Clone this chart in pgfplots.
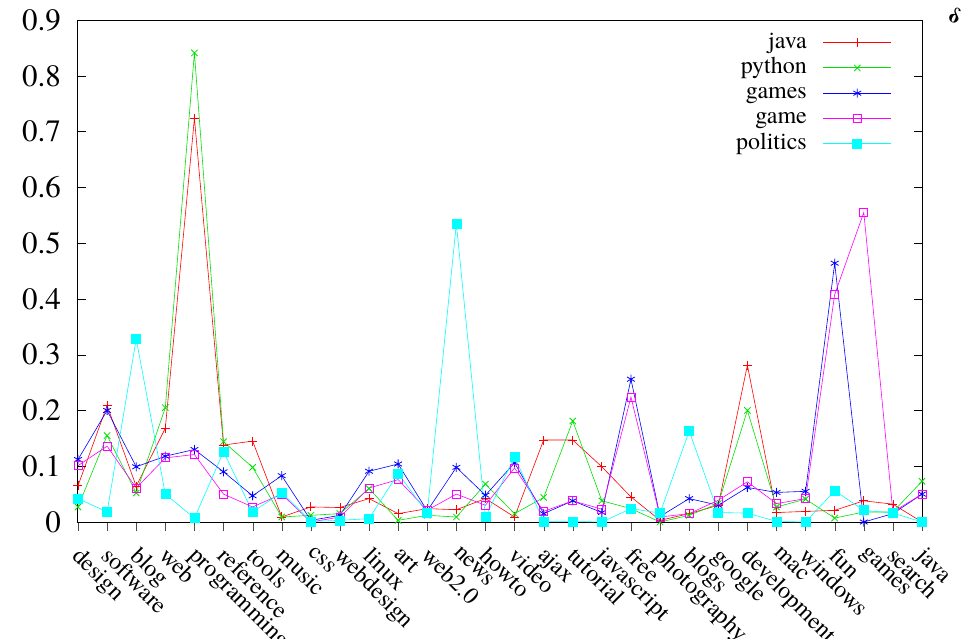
\documentclass[border=0pt]{standalone}
\usepackage{fontspec}
\setmainfont{texgyretermes-regular.otf}[BoldFont=texgyretermes-bold.otf]
\usepackage{pgfplots}
\usepackage{pgfplotstable}
\pgfplotsset{compat=1.18}
\definecolor{cRed}{RGB}{255,0,0}
\definecolor{cGreen}{RGB}{0,225,0}
\definecolor{cBlue}{RGB}{0,0,255}
\definecolor{cPink}{RGB}{255,0,255}
\definecolor{cCyan}{RGB}{0,255,255}
\pgfplotstableread{
x java python games game politics
0 0.065 0.027 0.112 0.101 0.042
1 0.209 0.155 0.200 0.136 0.018
2 0.064 0.052 0.099 0.061 0.328
3 0.168 0.205 0.118 0.115 0.050
4 0.724 0.841 0.130 0.121 0.007
5 0.138 0.144 0.090 0.050 0.126
6 0.145 0.098 0.047 0.027 0.018
7 0.009 0.009 0.083 0.050 0.053
8 0.027 0.012 0.003 0.000 0.001
9 0.026 0.015 0.012 0.009 0.003
10 0.042 0.060 0.091 0.061 0.006
11 0.015 0.003 0.104 0.076 0.087
12 0.024 0.012 0.020 0.021 0.016
13 0.022 0.009 0.098 0.050 0.535
14 0.042 0.068 0.048 0.030 0.009
15 0.009 0.015 0.106 0.097 0.117
16 0.147 0.044 0.015 0.019 0.001
17 0.147 0.181 0.038 0.038 0.001
18 0.099 0.038 0.017 0.023 0.000
19 0.045 0.024 0.256 0.224 0.024
20 0.003 0.000 0.010 0.009 0.016
21 0.015 0.012 0.042 0.015 0.163
22 0.030 0.033 0.030 0.039 0.017
23 0.281 0.200 0.062 0.072 0.016
24 0.017 0.027 0.053 0.033 0.001
25 0.019 0.041 0.055 0.042 0.000
26 0.021 0.007 0.464 0.408 0.056
27 0.038 0.018 0.000 0.555 0.021
28 0.032 0.018 0.015 0.018 0.016
29 0.000 0.073 0.050 0.050 0.000
}\datatable
\begin{document}
\begin{tikzpicture}
\begin{axis}[
  scale only axis, width=844pt, height=502pt,
  xmin=0, xmax=29, ymin=0, ymax=0.9,
  xtick={0,...,29},
  xticklabels={design,software,blog,web,programming,reference,tools,music,css,webdesign,linux,art,web2.0,news,howto,video,ajax,tutorial,javascript,free,photography,blogs,google,development,mac,windows,fun,games,search,java},
  ytick={0,0.1,0.2,0.3,0.4,0.5,0.6,0.7,0.8,0.9},
  yticklabels={0,0.1,0.2,0.3,0.4,0.5,0.6,0.7,0.8,0.9},
  tick align=inside, major tick length=8pt,
  xtick pos=left, ytick pos=both,
  xtick style={yshift=-9pt, black!70},
  ytick style={black},
  /pgf/number format/assume math mode=true,
  yticklabel style={font=\fontsize{31}{31}\selectfont, inner sep=0pt, xshift=-17pt},
  xticklabel style={font=\fontsize{24}{24}\selectfont, rotate=-45, anchor=north west, xshift=20pt, yshift=-13pt, inner sep=0pt},
  axis line style={black, line width=1pt},
  legend plot pos=right,
  legend cell align=right,
  legend image code/.code={\draw[mark repeat=2,mark phase=2,#1,line width=1pt] plot coordinates {(0pt,0pt) (34pt,0pt) (68pt,0pt)};},
  legend style={draw=none, fill=none, at={(rel axis cs:1,1)}, anchor=north east, xshift=-30pt, yshift=-10pt,
    font=\fontsize{24}{24}\selectfont, inner sep=0pt, row sep=0.25pt, column sep=15pt,
    nodes={inner sep=1pt, text height=17pt, text depth=6pt}},
]
\addplot[color=cRed, line width=0.6pt, mark=+, mark size=4.5pt, mark options={line width=0.8pt}] table[x=x,y=java] {\datatable};
\addlegendentry{java}
\addplot[color=cGreen, line width=0.6pt, mark=x, mark size=4.5pt, mark options={line width=0.8pt}] table[x=x,y=python] {\datatable};
\addlegendentry{python}
\addplot[color=cBlue, line width=0.6pt, mark=asterisk, mark size=4.5pt, mark options={line width=0.8pt}] table[x=x,y=games] {\datatable};
\addlegendentry{games}
\addplot[color=cPink, line width=0.6pt, mark=square, mark size=4pt, mark options={line width=0.8pt, draw=cPink}] table[x=x,y=game] {\datatable};
\addlegendentry{game}
\addplot[color=cCyan, line width=0.6pt, mark=square*, mark size=4.5pt, mark options={fill=cCyan, draw=cCyan}] table[x=x,y=politics] {\datatable};
\addlegendentry{politics}
\end{axis}
\node[font=\fontsize{22}{22}\selectfont\bfseries, rotate=-20] at (877pt,507pt) {δ};
\pgfresetboundingbox
\path[use as bounding box] (-78pt,-116pt) rectangle (885pt,522pt);
\end{tikzpicture}
\end{document}
